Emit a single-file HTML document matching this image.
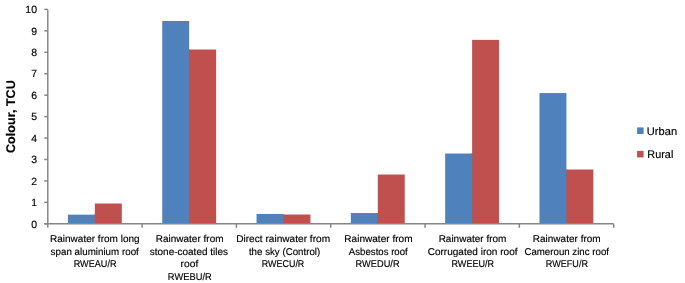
<!DOCTYPE html>
<html><head><meta charset="utf-8"><style>
html,body{margin:0;padding:0;background:#fff;width:685px;height:283px;overflow:hidden}
svg{display:block}
text{font-family:"Liberation Sans",sans-serif;fill:#000;stroke:#000;stroke-width:0.15px}
.yl{font-size:10.5px}
.cl{font-size:9.9px}
.lg{font-size:11px}
.yt{font-size:12.6px;font-weight:bold}
</style></head><body>
<svg width="685" height="283" viewBox="0 0 685 283">
<rect x="93.87" y="214.67" width="2" height="9.13" fill="#4F81BD"/>
<rect x="67.92" y="214.67" width="26.95" height="9.13" fill="#4F81BD"/>
<rect x="94.87" y="203.52" width="26.95" height="20.28" fill="#C0504D"/>
<rect x="188.18" y="49.53" width="2" height="174.27" fill="#4F81BD"/>
<rect x="162.23" y="20.95" width="26.95" height="202.85" fill="#4F81BD"/>
<rect x="189.18" y="49.53" width="26.95" height="174.27" fill="#C0504D"/>
<rect x="282.49" y="214.53" width="2" height="9.27" fill="#4F81BD"/>
<rect x="256.54" y="213.95" width="26.95" height="9.85" fill="#4F81BD"/>
<rect x="283.49" y="214.53" width="26.95" height="9.27" fill="#C0504D"/>
<rect x="376.80" y="213.04" width="2" height="10.76" fill="#4F81BD"/>
<rect x="350.85" y="213.04" width="26.95" height="10.76" fill="#4F81BD"/>
<rect x="377.80" y="174.53" width="26.95" height="49.27" fill="#C0504D"/>
<rect x="471.11" y="153.53" width="2" height="70.27" fill="#4F81BD"/>
<rect x="445.16" y="153.53" width="26.95" height="70.27" fill="#4F81BD"/>
<rect x="472.11" y="39.88" width="26.95" height="183.92" fill="#C0504D"/>
<rect x="565.42" y="169.53" width="2" height="54.27" fill="#4F81BD"/>
<rect x="539.47" y="93.05" width="26.95" height="130.75" fill="#4F81BD"/>
<rect x="566.42" y="169.53" width="26.95" height="54.27" fill="#C0504D"/>
<path d="M47.8 9.40V227.8" stroke="#868686" stroke-width="1.5" fill="none"/>
<path d="M44.3 223.8H613.66" stroke="#868686" stroke-width="1.5" fill="none"/>
<path d="M44.3 223.80H47.8" stroke="#868686" stroke-width="1.5" fill="none"/>
<text transform="translate(37.00 227.55) skewX(0.3)" class="yl" text-anchor="end">0</text>
<path d="M44.3 202.36H47.8" stroke="#868686" stroke-width="1.5" fill="none"/>
<text transform="translate(37.00 206.11) skewX(0.3)" class="yl" text-anchor="end">1</text>
<path d="M44.3 180.92H47.8" stroke="#868686" stroke-width="1.5" fill="none"/>
<text transform="translate(37.00 184.67) skewX(0.3)" class="yl" text-anchor="end">2</text>
<path d="M44.3 159.48H47.8" stroke="#868686" stroke-width="1.5" fill="none"/>
<text transform="translate(37.00 163.23) skewX(0.3)" class="yl" text-anchor="end">3</text>
<path d="M44.3 138.04H47.8" stroke="#868686" stroke-width="1.5" fill="none"/>
<text transform="translate(37.00 141.79) skewX(0.3)" class="yl" text-anchor="end">4</text>
<path d="M44.3 116.60H47.8" stroke="#868686" stroke-width="1.5" fill="none"/>
<text transform="translate(37.00 120.35) skewX(0.3)" class="yl" text-anchor="end">5</text>
<path d="M44.3 95.16H47.8" stroke="#868686" stroke-width="1.5" fill="none"/>
<text transform="translate(37.00 98.91) skewX(0.3)" class="yl" text-anchor="end">6</text>
<path d="M44.3 73.72H47.8" stroke="#868686" stroke-width="1.5" fill="none"/>
<text transform="translate(37.00 77.47) skewX(0.3)" class="yl" text-anchor="end">7</text>
<path d="M44.3 52.28H47.8" stroke="#868686" stroke-width="1.5" fill="none"/>
<text transform="translate(37.00 56.03) skewX(0.3)" class="yl" text-anchor="end">8</text>
<path d="M44.3 30.84H47.8" stroke="#868686" stroke-width="1.5" fill="none"/>
<text transform="translate(37.00 34.59) skewX(0.3)" class="yl" text-anchor="end">9</text>
<path d="M44.3 9.40H47.8" stroke="#868686" stroke-width="1.5" fill="none"/>
<text transform="translate(37.00 13.15) skewX(0.3)" class="yl" text-anchor="end">10</text>
<path d="M142.11 223.8V227.8" stroke="#868686" stroke-width="1.5" fill="none"/>
<path d="M236.42 223.8V227.8" stroke="#868686" stroke-width="1.5" fill="none"/>
<path d="M330.73 223.8V227.8" stroke="#868686" stroke-width="1.5" fill="none"/>
<path d="M425.04 223.8V227.8" stroke="#868686" stroke-width="1.5" fill="none"/>
<path d="M519.35 223.8V227.8" stroke="#868686" stroke-width="1.5" fill="none"/>
<path d="M613.66 223.8V227.8" stroke="#868686" stroke-width="1.5" fill="none"/>
<text id="c0" transform="translate(94.80 241.80) skewX(0.3)" class="cl" text-anchor="middle" textLength="89.63" lengthAdjust="spacingAndGlyphs">Rainwater from long</text>
<text id="c1" transform="translate(94.70 255.00) skewX(0.3)" class="cl" text-anchor="middle" textLength="88.26" lengthAdjust="spacingAndGlyphs">span aluminium roof</text>
<text id="c2" transform="translate(95.10 267.30) skewX(0.3)" class="cl" text-anchor="middle" textLength="42.79" lengthAdjust="spacingAndGlyphs">RWEAU/R</text>
<text id="c3" transform="translate(189.60 241.80) skewX(0.3)" class="cl" text-anchor="middle" textLength="67.87" lengthAdjust="spacingAndGlyphs">Rainwater from</text>
<text id="c4" transform="translate(188.90 255.00) skewX(0.3)" class="cl" text-anchor="middle" textLength="78.24" lengthAdjust="spacingAndGlyphs">stone-coated tiles</text>
<text id="c5" transform="translate(189.40 267.30) skewX(0.3)" class="cl" text-anchor="middle" textLength="17.75" lengthAdjust="spacingAndGlyphs">roof</text>
<text id="c6" transform="translate(189.79 280.00) skewX(0.3)" class="cl" text-anchor="middle" textLength="43.95" lengthAdjust="spacingAndGlyphs">RWEBU/R</text>
<text id="c7" transform="translate(283.14 241.80) skewX(0.3)" class="cl" text-anchor="middle" textLength="93.97" lengthAdjust="spacingAndGlyphs">Direct rainwater from</text>
<text id="c8" transform="translate(284.59 255.00) skewX(0.3)" class="cl" text-anchor="middle" textLength="71.35" lengthAdjust="spacingAndGlyphs">the sky (Control)</text>
<text id="c9" transform="translate(283.05 267.30) skewX(0.3)" class="cl" text-anchor="middle" textLength="42.57" lengthAdjust="spacingAndGlyphs">RWECU/R</text>
<text id="c10" transform="translate(378.40 241.80) skewX(0.3)" class="cl" text-anchor="middle" textLength="68.28" lengthAdjust="spacingAndGlyphs">Rainwater from</text>
<text id="c11" transform="translate(378.30 255.00) skewX(0.3)" class="cl" text-anchor="middle" textLength="58.90" lengthAdjust="spacingAndGlyphs">Asbestos roof</text>
<text id="c12" transform="translate(377.61 267.30) skewX(0.3)" class="cl" text-anchor="middle" textLength="44.01" lengthAdjust="spacingAndGlyphs">RWEDU/R</text>
<text id="c13" transform="translate(472.50 241.80) skewX(0.3)" class="cl" text-anchor="middle" textLength="67.77" lengthAdjust="spacingAndGlyphs">Rainwater from</text>
<text id="c14" transform="translate(472.60 255.00) skewX(0.3)" class="cl" text-anchor="middle" textLength="89.92" lengthAdjust="spacingAndGlyphs">Corrugated iron roof</text>
<text id="c15" transform="translate(472.79 267.30) skewX(0.3)" class="cl" text-anchor="middle" textLength="42.71" lengthAdjust="spacingAndGlyphs">RWEEU/R</text>
<text id="c16" transform="translate(566.70 241.80) skewX(0.3)" class="cl" text-anchor="middle" textLength="67.98" lengthAdjust="spacingAndGlyphs">Rainwater from</text>
<text id="c17" transform="translate(566.70 255.00) skewX(0.3)" class="cl" text-anchor="middle" textLength="84.61" lengthAdjust="spacingAndGlyphs">Cameroun zinc roof</text>
<text id="c18" transform="translate(566.88 267.30) skewX(0.3)" class="cl" text-anchor="middle" textLength="42.31" lengthAdjust="spacingAndGlyphs">RWEFU/R</text>
<rect x="637.1" y="127.4" width="6.5" height="6.6" fill="#4F81BD"/>
<rect x="637.1" y="150.9" width="6.5" height="6.5" fill="#C0504D"/>
<text id="l0" transform="translate(661.90 134.50) skewX(0.3)" class="lg" text-anchor="middle" textLength="30.38" lengthAdjust="spacingAndGlyphs">Urban</text>
<text id="l1" transform="translate(660.30 157.70) skewX(0.3)" class="lg" text-anchor="middle" textLength="26.09" lengthAdjust="spacingAndGlyphs">Rural</text>
<text transform="translate(14.60 116.60) rotate(-90) skewX(0.3)" class="yt" text-anchor="middle">Colour, TCU</text>
</svg>
</body></html>
